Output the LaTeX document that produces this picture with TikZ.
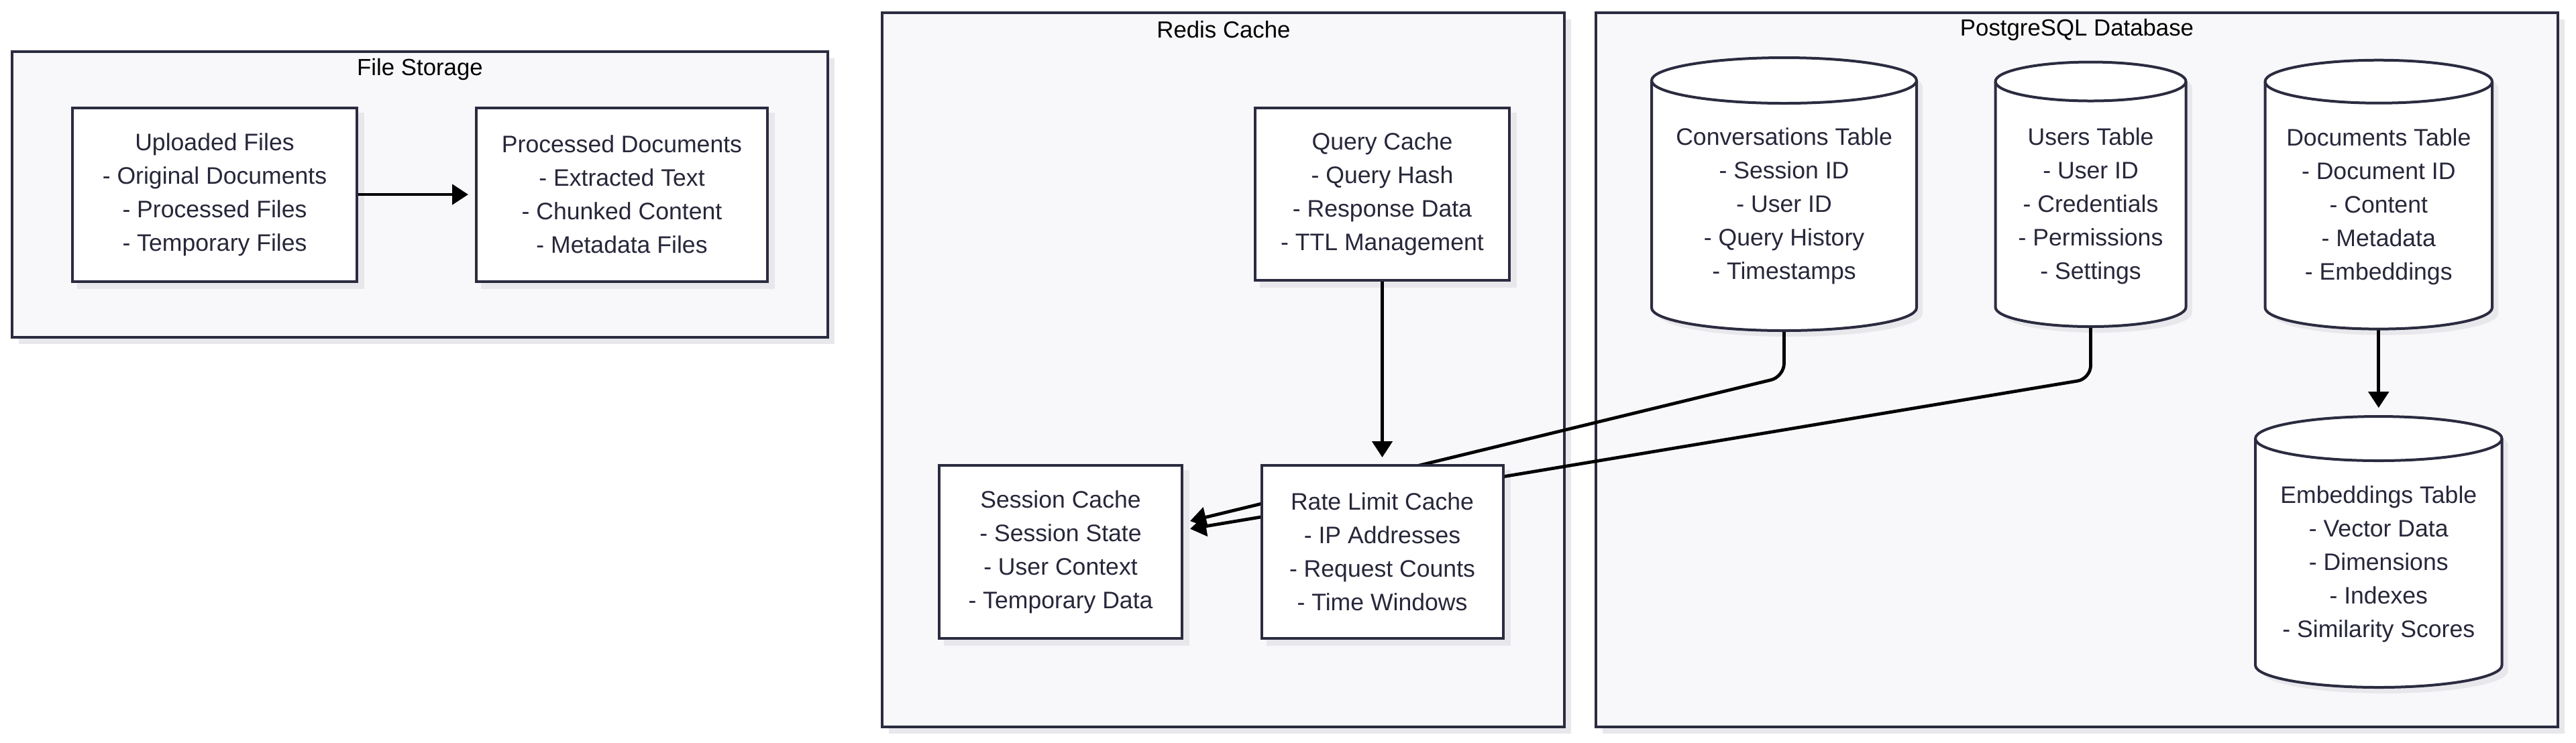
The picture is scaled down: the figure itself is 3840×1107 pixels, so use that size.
\documentclass[tikz,border=0pt]{standalone}
\usepackage{fontspec}
\setmainfont{Liberation Sans}
\usetikzlibrary{arrows.meta,calc}
\definecolor{linec}{HTML}{2B2B40}
\definecolor{textc}{HTML}{27273A}
\definecolor{clfill}{HTML}{F8F8FA}
\definecolor{shadowc}{HTML}{E8E8EC}
\pgfdeclarelayer{bg}
\pgfdeclarelayer{edges}
\pgfsetlayers{bg,edges,main}
\tikzset{
  cluster/.style={draw=linec, line width=1.1pt, fill=clfill, inner sep=0pt},
  cltitle/.style={font=\fontsize{8.7pt}{10pt}\selectfont, text=black, inner sep=0pt},
  box/.style={draw=linec, line width=1pt, fill=white, inner sep=0pt, align=center,
    text=textc, font=\fontsize{8.9pt}{12.5pt}\selectfont},
  nodetext/.style={inner sep=0pt, align=center, text=textc, font=\fontsize{8.9pt}{12.5pt}\selectfont},
  nodeline/.style={draw=linec, line width=1pt, fill=white},
  edge/.style={draw=black, line width=1.2pt, -{Triangle[length=6pt,width=7.5pt]}},
}
% name, cx, top, bottom, width, ry, text
\newcommand\dbcyl[7]{%
  \pgfmathsetmacro\cxl{#2-#5/2}\pgfmathsetmacro\cxr{#2+#5/2}%
  \pgfmathsetmacro\yt{#3+#6}\pgfmathsetmacro\yb{#4-#6}%
  \pgfmathsetmacro\rxp{#5/2*0.25}\pgfmathsetmacro\ryp{#6*0.25}%
  \node[inner sep=0pt, minimum width=#5*0.25pt, minimum height=(#4-#3)*0.25pt] (#1) at (#2,{(#3+#4)/2}) {};
  \begin{pgfonlayer}{bg}
    \fill[shadowc, shift={(9,9)}] (\cxl,\yt) -- (\cxl,\yb)
      arc[start angle=180,end angle=360,x radius=\rxp pt,y radius=\ryp pt] -- (\cxr,\yt)
      arc[start angle=0,end angle=180,x radius=\rxp pt,y radius=\ryp pt] -- cycle;
  \end{pgfonlayer}
  \filldraw[nodeline] (\cxl,\yt) -- (\cxl,\yb)
      arc[start angle=180,end angle=360,x radius=\rxp pt,y radius=\ryp pt] -- (\cxr,\yt)
      arc[start angle=0,end angle=180,x radius=\rxp pt,y radius=\ryp pt] -- cycle;
  \draw[nodeline, fill=none] (\cxl,\yt) arc[start angle=180,end angle=360,x radius=\rxp pt,y radius=\ryp pt];
  \node[nodetext] (#1-t) at (#2,{(#3+#4)/2+18}) {#7};
}
\begin{document}
\begin{tikzpicture}[x=0.25pt,y=-0.25pt]
\begin{pgfonlayer}{bg}
  \fill[white] (0,0) rectangle (3840,1107);
\end{pgfonlayer}
\useasboundingbox (0,0) rectangle (3840,1107);
% clusters
\begin{pgfonlayer}{bg}
  \fill[shadowc] (28,87) rectangle (1244,513);
  \fill[shadowc] (1325,29) rectangle (2342,1094);
  \fill[shadowc] (2389,29) rectangle (3823,1094);
  \node[cluster, minimum width=1216*0.25pt, minimum height=426*0.25pt] (fs) at (626,290) {};
  \node[cluster, minimum width=1017*0.25pt, minimum height=1065*0.25pt] (redis) at (1823.5,551.5) {};
  \node[cluster, minimum width=1434*0.25pt, minimum height=1065*0.25pt] (pg) at (3096,551.5) {};
\end{pgfonlayer}
\node[cltitle] (fsT) at (626,103) {File Storage};
\node[cltitle] (redisT) at (1824,44) {Redis Cache};
\node[cltitle] (pgT) at (3096,44) {PostgreSQL Database};
% rectangle nodes
\node[box, minimum width=424*0.25pt, minimum height=259*0.25pt] (up) at (320,290)
  {Uploaded Files\\- Original Documents\\- Processed Files\\- Temporary Files};
\node[box, minimum width=434*0.25pt, minimum height=259*0.25pt] (proc) at (927,290)
  {Processed Documents\\- Extracted Text\\- Chunked Content\\- Metadata Files};
\node[box, minimum width=379*0.25pt, minimum height=257*0.25pt] (qc) at (2060.5,289.5)
  {Query Cache\\- Query Hash\\- Response Data\\- TTL Management};
\node[box, minimum width=362*0.25pt, minimum height=258*0.25pt] (sess) at (1581,823)
  {Session Cache\\- Session State\\- User Context\\- Temporary Data};
\node[box, minimum width=360*0.25pt, minimum height=258*0.25pt] (rate) at (2060.5,823)
  {Rate Limit Cache\\- IP Addresses\\- Request Counts\\- Time Windows};
\begin{pgfonlayer}{bg}
  \foreach \n in {up,proc,qc,sess,rate}
    \fill[shadowc] ([shift={(2.25pt,-2.25pt)}]\n.north west) rectangle ([shift={(2.25pt,-2.25pt)}]\n.south east);
\end{pgfonlayer}
% cylinders
\dbcyl{conv}{2659.5}{86}{493}{395}{34}{Conversations Table\\- Session ID\\- User ID\\- Query History\\- Timestamps}
\dbcyl{users}{3116.5}{92.5}{487}{284}{29}{Users Table\\- User ID\\- Credentials\\- Permissions\\- Settings}
\dbcyl{docs}{3545.75}{89.7}{490.6}{338.5}{32}{Documents Table\\- Document ID\\- Content\\- Metadata\\- Embeddings}
\dbcyl{emb}{3545.75}{621}{1025}{367.5}{33}{Embeddings Table\\- Vector Data\\- Dimensions\\- Indexes\\- Similarity Scores}
% edges
\begin{pgfonlayer}{edges}
  \draw[edge] (up.east) -- ([xshift=-2.5pt]proc.west);
  \draw[edge] (qc.south) -- ([yshift=2.5pt]rate.north);
  \draw[edge] (docs.south) -- ([yshift=3pt]emb.north);
  \draw[edge, rounded corners=5pt] (conv.south) -- ++(0,68) -- ([shift={(2.5pt,11.5pt)}]sess.east);
  \draw[edge, rounded corners=5pt] (users.south) -- ++(0,77) -- ([shift={(2.5pt,8.6pt)}]sess.east);
\end{pgfonlayer}
\end{tikzpicture}
\end{document}
